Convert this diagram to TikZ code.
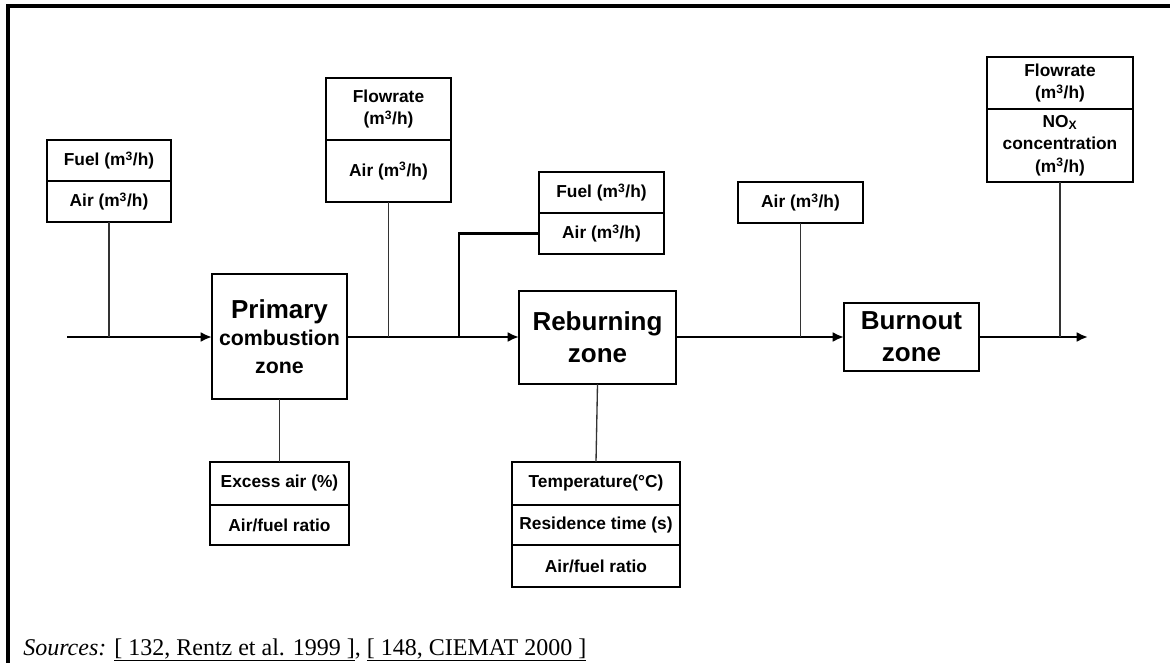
\documentclass[tikz,border=0pt]{standalone}
\usepackage{fontspec}
\setmainfont{Liberation Serif}
\newfontfamily\arialfont{Liberation Sans}
\usetikzlibrary{arrows.meta, positioning}

\tikzset{
	cell/.style={draw, line width=1.1pt, outer sep=0pt, inner sep=0pt, align=center,
		font=\arialfont\bfseries\fontsize{13}{17}\selectfont},
	zone/.style={draw, line width=2.2pt, outer sep=0pt, inner sep=0pt, align=center,
		font=\arialfont\bfseries\fontsize{19.5}{24}\selectfont},
	pipe/.style={line width=2pt},
	feed/.style={-{Latex[length=8.5pt,width=7.5pt]}},
	link/.style={line width=1pt, draw=black!80},
}

\begin{document}
\begin{tikzpicture}[x=0.75pt, y=-0.75pt]
				\useasboundingbox (0,0) rectangle (1170,663);
				\draw[line width=2.6pt] (8,663) -- (8,6) -- (1170,6);
				
				% zones
				\node[zone, minimum width=101.25pt, minimum height=93.75pt,
				font=\arialfont\bfseries\fontsize{19.5}{20.5}\selectfont] (primary) at (279.5,336.5)
				{Primary\\{\fontsize{16}{16}\selectfont combustion}\\{\fontsize{16}{16}\selectfont zone}};
				\node[zone, minimum width=117.75pt, minimum height=69.75pt] (reburn) at (597.5,337.5) {Reburning\\zone};
				\node[zone, minimum width=101.25pt, minimum height=51pt] (burnout) at (911.5,337) {Burnout\\zone};
				
				% parameter boxes
				\node[cell, minimum width=93pt, minimum height=30.75pt] (fuelA) at (109,160.5) {Fuel (m\textsuperscript{3}/h)};
				\node[cell, minimum width=93pt, minimum height=30.75pt, below=0pt of fuelA] (airA) {Air (m\textsuperscript{3}/h)};
				
				\node[cell, minimum width=93.75pt, minimum height=46.5pt] (flowB) at (388.5,109) {Flowrate\\(m\textsuperscript{3}/h)};
				\node[cell, minimum width=93.75pt, minimum height=46.5pt, below=0pt of flowB] (airB) {Air (m\textsuperscript{3}/h)};
				
				\node[cell, minimum width=93.75pt, minimum height=30.75pt] (fuelC) at (601.5,192.5) {Fuel (m\textsuperscript{3}/h)};
				\node[cell, minimum width=93.75pt, minimum height=30.75pt, below=0pt of fuelC] (airC) {Air (m\textsuperscript{3}/h)};
				
				\node[cell, minimum width=93.75pt, minimum height=30.75pt] (airD) at (800.5,202.5) {Air (m\textsuperscript{3}/h)};
				
				\node[cell, minimum width=109.5pt, minimum height=39pt] (flowE) at (1060,83) {Flowrate\\(m\textsuperscript{3}/h)};
				\node[cell, minimum width=109.5pt, minimum height=54.75pt, below=0pt of flowE] (noxE)
				{NO\textsubscript{X}\\concentration\\(m\textsuperscript{3}/h)};
				
				\node[cell, minimum width=104.25pt, minimum height=32.25pt] (excessF) at (279.5,483.5) {Excess air (\%)};
				\node[cell, minimum width=104.25pt, minimum height=30pt, below=0pt of excessF] (ratioF) {Air/fuel ratio};
				
				\node[cell, minimum width=126pt, minimum height=32.25pt] (tempG) at (596,483.5) {Temperature(°C)};
				\node[cell, minimum width=126pt, minimum height=30pt, below=0pt of tempG] (resG) {Residence time (s)};
				\node[cell, minimum width=126pt, minimum height=31.5pt, below=0pt of resG] (ratioG) {Air/fuel ratio};
				
				% flow line
				\coordinate (in) at (67,337);
				\coordinate (split) at (459,337);
				\coordinate (out) at (1088,337);
				
				\draw[pipe, feed] (in) -- (in -| primary.west);
				\draw[link] (airA.south) -- (airA.south |- in);
				\draw[line width=1.2pt] (primary.east |- split) -- (split);
				\draw[link] (airB.south) -- (airB.south |- split);
				\draw[pipe, feed] (split) -- (split -| reburn.west);
				\draw[pipe] (split) |- (airC.west);
				\draw[pipe, feed] (reburn.east |- out) -- (burnout.west |- out);
				\draw[link] (airD.south) -- (airD.south |- out);
				\draw[pipe, feed] (burnout.east |- out) -- (out);
				\draw[link] (noxE.south) -- (noxE.south |- out);
				\draw[link] (primary.south) -- (excessF.north);
				\draw[link] (reburn.south) -- (tempG.north);
				
				\node[anchor=base west, inner sep=0pt, font=\fontsize{18}{20}\selectfont] (sources) at (23,655)
				{\textit{Sources:} \underline{[ 132, Rentz et al. 1999 ]}, \underline{[ 148, CIEMAT 2000 ]}};
\end{tikzpicture}
\end{document}
